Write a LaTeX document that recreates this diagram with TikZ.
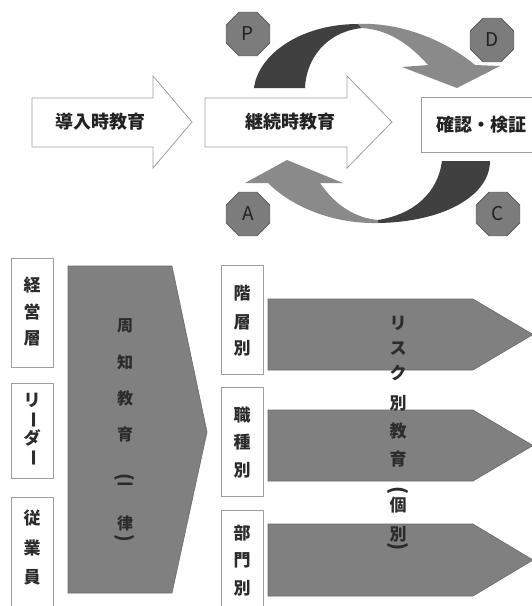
\documentclass[tikz,border=0pt]{standalone}
\usepackage{fontspec}
\setmainfont{Noto Sans CJK JP}
\usetikzlibrary{shapes.geometric}
\definecolor{darkarc}{HTML}{404040}
\definecolor{lightarc}{HTML}{8A8A8A}
\definecolor{boxline}{HTML}{A0A0A0}
\definecolor{grayfill}{HTML}{808080}
\definecolor{grayline}{HTML}{6A6A6A}
\definecolor{octfill}{HTML}{7C7C7C}
\definecolor{octline}{HTML}{5C5C5C}
\definecolor{txt}{HTML}{222222}
\definecolor{vtxt}{HTML}{2C2C2C}
\begin{document}
\begin{tikzpicture}[x=1pt,y=-1pt,
  whitearrow/.style={draw=boxline, fill=white, line width=0.8pt},
  wbox/.style={draw=boxline, fill=white, line width=0.8pt, inner sep=0pt},
  garrow/.style={draw=grayline, fill=grayfill, line width=0.6pt},
  oct/.style={regular polygon, regular polygon sides=8, minimum size=47pt, inner sep=0pt,
    fill=octfill, draw=octline, line width=0.8pt, font=\fontsize{19}{19}\selectfont, text=txt},
  htext/.style={font=\fontsize{18}{18}\selectfont\bfseries, text=txt, inner sep=0pt},
  vch/.style={font=\fontsize{17}{17}\selectfont\bfseries, text=vtxt, inner sep=0pt},
  pch/.style={font=\fontsize{16}{16}\selectfont\bfseries, text=vtxt, inner sep=0pt},
]
\useasboundingbox (0,0) rectangle (532,606);
\clip (0,0) rectangle (532,606);

% ---------- top row ----------
\draw[whitearrow] (32,98) -- (153,98) -- (153,76) -- (192,122) -- (153,168) -- (153,147) -- (32,147) -- cycle;
\node[htext] (intro) at (101,122) {導入時教育};
\draw[whitearrow] (205,98) -- (347,98) -- (347,76) -- (392,122) -- (347,168) -- (347,147) -- (205,147) -- cycle;
\node[htext] (cont) at (290,122) {継続時教育};
\node[wbox, htext, minimum width=120pt, minimum height=55pt, anchor=west] (check) at (421,124.5) {確認・検証};

% PDCA curved arrows
\fill[darkarc] (254,88) .. controls (258,55) and (300,24) .. (358,24) -- (362,28)
  .. controls (325,32) and (306,60) .. (305,88) -- cycle;
\fill[lightarc] (358,24) .. controls (400,22) and (445,40) .. (475,65) -- (500,66) -- (457,88)
  -- (402,67) -- (428,65) .. controls (410,45) and (390,30) .. (362,28) -- cycle;
\fill[darkarc] (490,161) .. controls (490,195) and (445,222) .. (378,223) -- (378,220)
  .. controls (415,214) and (438,192) .. (442,161) -- cycle;
\fill[lightarc] (378,223) .. controls (330,224) and (290,205) .. (268,183) -- (245,183) -- (287,160)
  -- (343,183) -- (320,183) .. controls (335,205) and (355,218) .. (378,220) -- cycle;

\node[oct] (P) at (248,34) {P};
\node[oct] (D) at (492,40) {D};
\node[oct] (A) at (248,214) {A};
\node[oct] (C) at (498,214) {C};

% ---------- bottom part ----------
\node[wbox, minimum width=42pt, minimum height=109pt] (lb1) at (32,312.5) {};
\node[wbox, minimum width=42pt, minimum height=95pt] (lb2) at (32,430.5) {};
\node[wbox, minimum width=42pt, minimum height=118pt] (lb3) at (32,556) {};
\foreach \c/\y [count=\i] in {経/285, 営/312, 層/338}
  \node[vch] (lb1c\i) at (32,\y) {\c};
\foreach \c/\y/\r [count=\i] in {リ/400/0, ー/420/-90, ダ/438/0, ー/458/-90}
  \node[vch, rotate=\r] (lb2c\i) at (32,\y) {\c};
\foreach \c/\y [count=\i] in {従/518, 業/548, 員/577}
  \node[vch] (lb3c\i) at (32,\y) {\c};

\draw[garrow] (68,266) -- (172,266) -- (207,432) -- (172,593) -- (68,593) -- cycle;
\foreach \c/\y [count=\i] in {周/326, 知/362, 教/398, 育/434, 一/487, 律/523}
  \node[pch] (pc\i) at (125,\y) {\c};
\node[pch, rotate=-90, scale=1.2] (popen) at (125,477) {(};
\node[pch, rotate=-90, scale=1.2] (pclose) at (125,538) {)};

\node[wbox, minimum width=42pt, minimum height=109pt] (rb1) at (242,319.5) {};
\node[wbox, minimum width=42pt, minimum height=109pt] (rb2) at (242,441.5) {};
\node[wbox, minimum width=42pt, minimum height=105pt] (rb3) at (242,562.5) {};
\foreach \c/\y [count=\i] in {階/293, 層/322, 別/348}
  \node[vch] (rb1c\i) at (242,\y) {\c};
\foreach \c/\y [count=\i] in {職/415, 種/442, 別/470}
  \node[vch] (rb2c\i) at (242,\y) {\c};
\foreach \c/\y [count=\i] in {部/533, 門/560, 別/588}
  \node[vch] (rb3c\i) at (242,\y) {\c};

\draw[garrow] (268,299) -- (473,299) -- (533,334.5) -- (473,370) -- (268,370) -- cycle;
\draw[garrow] (268,410) -- (473,410) -- (533,445.5) -- (473,481) -- (268,481) -- cycle;
\draw[garrow] (268,524) -- (473,524) -- (533,560) -- (473,596) -- (268,596) -- cycle;
\foreach \c/\y [count=\i] in {リ/323, ス/349, ク/373, 別/403, 教/431, 育/459, 個/505, 別/534}
  \node[vch] (rc\i) at (398,\y) {\c};
\node[vch, rotate=-90, scale=1.2] (ropen) at (398,491) {(};
\node[vch, rotate=-90, scale=1.2] (rclose) at (398,547) {)};
\end{tikzpicture}
\end{document}
